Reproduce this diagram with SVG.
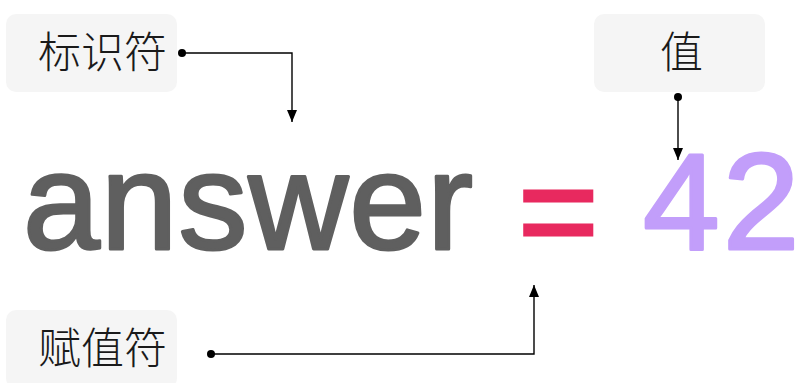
<svg xmlns="http://www.w3.org/2000/svg" width="802" height="383" viewBox="0 0 802 383">
<style>
.box{fill:#f5f5f5}
.lbl{font-family:"Noto Sans CJK SC","Noto Sans CJK JP",sans-serif;font-size:43px;font-weight:300;fill:#1a1a1a;text-anchor:middle}
.big{font-family:"Liberation Sans",Arial,sans-serif;font-size:138px;stroke-width:3;stroke-linejoin:round}
.eq{stroke-linejoin:miter}
.conn{fill:none;stroke:#000;stroke-width:1.4}
</style>
<defs>
<marker id="arr" viewBox="0 0 12 10" refX="12" refY="5" markerWidth="12" markerHeight="10" markerUnits="userSpaceOnUse" orient="auto">
<path d="M0,0 L12,5 L0,10 Z" fill="#000"/>
</marker>
</defs>
<g id="code">
<text class="big" x="23" y="249" fill="#5f5f5f" stroke="#5f5f5f" letter-spacing="1">answer</text>
<text class="big eq" x="518" y="258" fill="#e8295f" stroke="#e8295f">=</text>
<text class="big" x="643" y="249" fill="#c29efa" stroke="#c29efa" letter-spacing="3">42</text>
</g>
<g id="identifier">
<rect class="box" x="6" y="14" width="171" height="78" rx="10"/>
<text class="lbl" x="102.5" y="68">标识符</text>
</g>
<g id="value">
<rect class="box" x="594" y="14" width="171" height="78" rx="10"/>
<text class="lbl" x="681.5" y="68">值</text>
</g>
<g id="assign">
<rect class="box" x="6" y="310" width="171" height="78" rx="10"/>
<text class="lbl" x="102.5" y="364">赋值符</text>
</g>
<g id="connectors">
<circle cx="182" cy="53" r="4"/>
<path class="conn" d="M182,53 H292 V122" marker-end="url(#arr)"/>
<circle cx="678" cy="97" r="4"/>
<path class="conn" d="M678,97 V160" marker-end="url(#arr)"/>
<circle cx="211" cy="354" r="4"/>
<path class="conn" d="M211,354 H534 V285" marker-end="url(#arr)"/>
</g>
</svg>
